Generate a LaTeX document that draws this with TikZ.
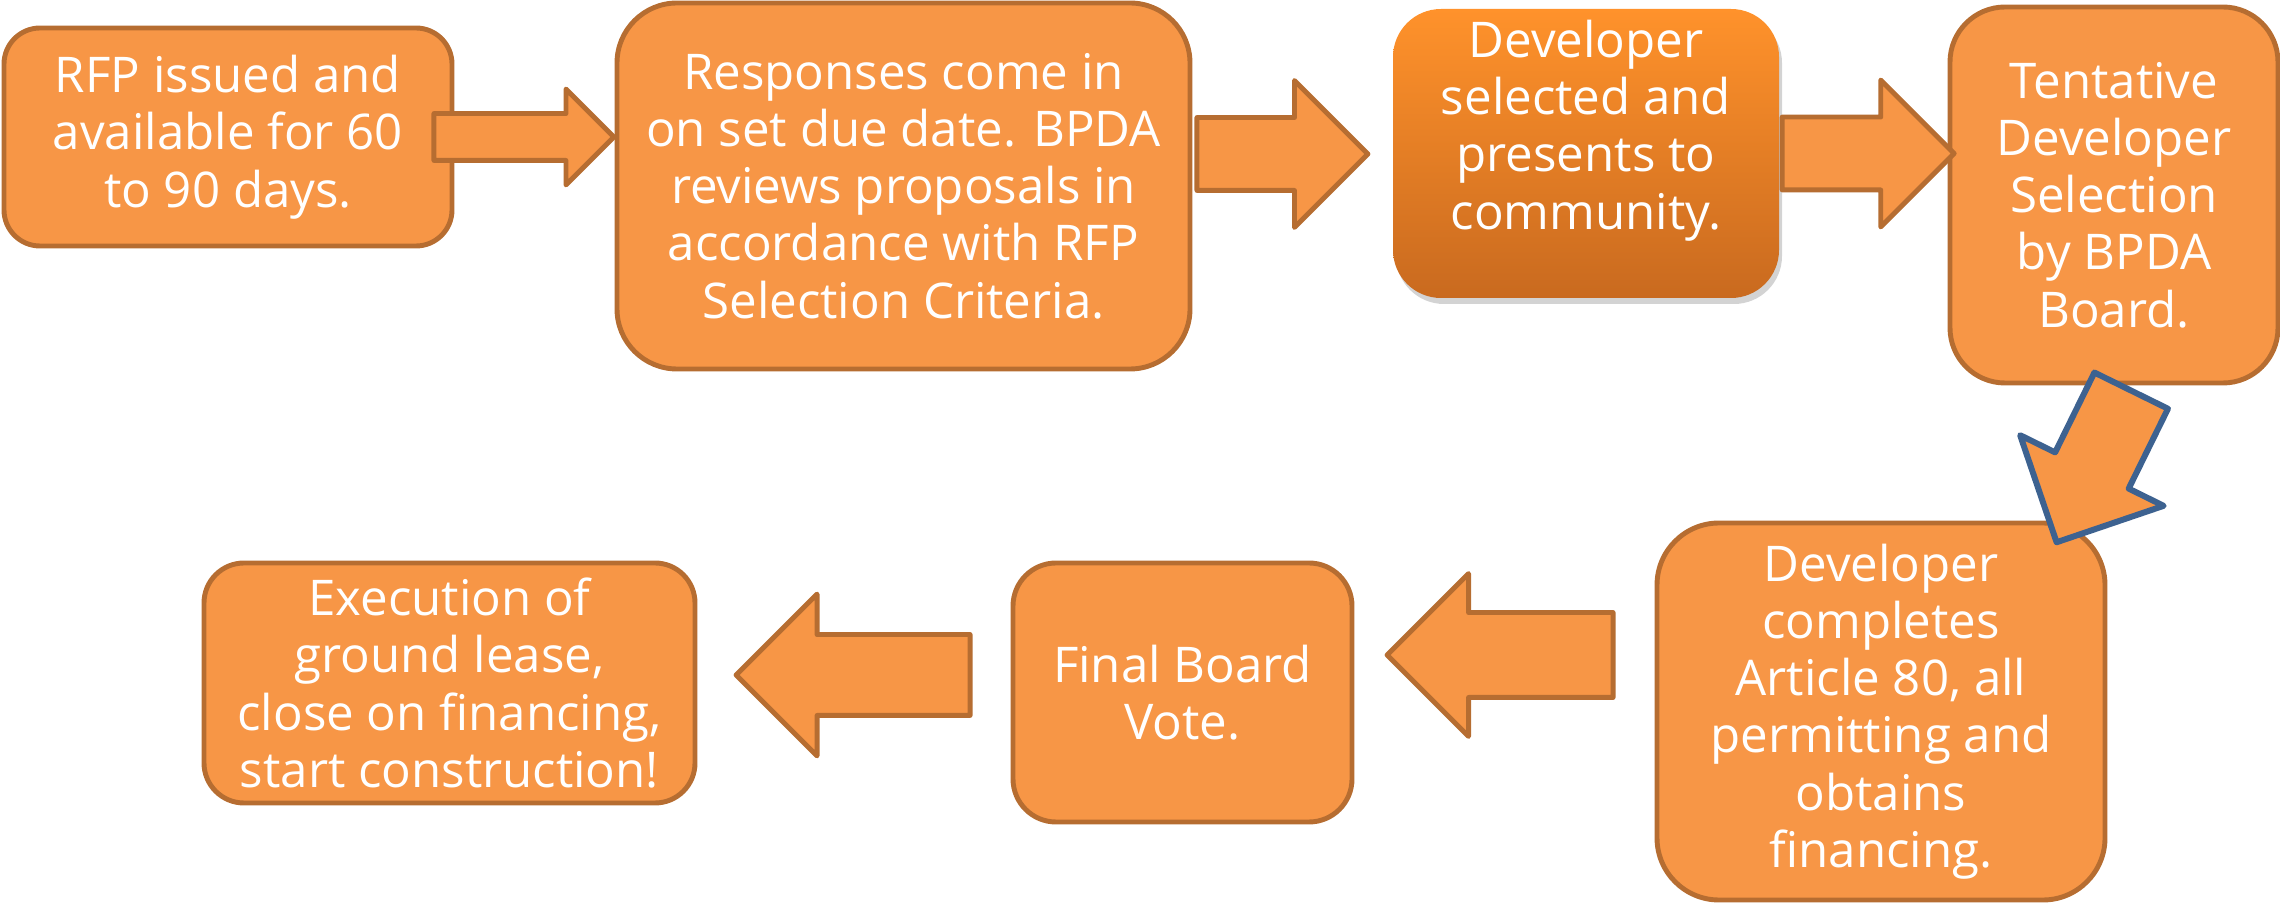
\documentclass[tikz,border=0pt]{standalone}
\usepackage{fontspec}
\setmainfont{Open Sans}
\usepackage{tikz}
\usetikzlibrary{positioning}
\usetikzlibrary{shapes.arrows}
\usetikzlibrary{shadows}

\definecolor{boxfill}{HTML}{F79646}
\definecolor{boxline}{HTML}{B66D31}
\definecolor{arrowblue}{HTML}{3D6290}
\definecolor{devtop}{HTML}{FF922B}
\definecolor{devbottom}{HTML}{C96A1F}

\begin{document}
\begin{tikzpicture}[
		steptext/.style = {text = white, align = center, font = \fontsize{14}{16.3}\selectfont, inner sep = 0pt},
		stepbox/.style = {steptext, draw = boxline, fill = boxfill, line width = 1.4pt},
		blockarrow/.style = {single arrow, draw = boxline, fill = boxfill, line width = 1.4pt, line join = round, inner xsep = 0pt}
	]
			\useasboundingbox (0,0) rectangle (22.8,-9.1);
			% top row
			\node[stepbox, minimum width = 4.48cm, minimum height = 2.18cm, rounded corners = 0.36cm] (rfp) at (2.28,-1.37) {RFP issued and\\available for 60\\to 90 days.};
			\node[stepbox, minimum width = 5.73cm, minimum height = 3.66cm, rounded corners = 0.6cm] (responses) at (9.035,-1.86) {Responses come in\\on set due date. BPDA\\reviews proposals in\\accordance with RFP\\Selection Criteria.};
			\node[draw = none, top color = devtop, bottom color = devbottom, drop shadow = {shadow xshift = 0.3mm, shadow yshift = -0.6mm, opacity = 0.35}, minimum width = 3.86cm, minimum height = 2.89cm, rounded corners = 0.48cm] (developer) at (15.86,-1.535) {};
			\node[steptext] (developertext) at ([yshift = 2.3mm]developer.center) {Developer\\selected and\\presents to\\community.};
			\node[stepbox, minimum width = 3.28cm, minimum height = 3.76cm, rounded corners = 0.55cm] (tentative) at (21.14,-1.95) {Tentative\\Developer\\Selection\\by BPDA\\Board.};
			% bottom row
			\node[stepbox, minimum width = 4.48cm, minimum height = 3.77cm, rounded corners = 0.62cm] (permitting) at (18.81,-7.115) {Developer\\completes\\Article 80, all\\permitting and\\obtains\\financing.};
			\node[stepbox, minimum width = 3.39cm, minimum height = 2.59cm, rounded corners = 0.43cm] (vote) at (11.825,-6.925) {Final Board\\Vote.};
			\node[stepbox, minimum width = 4.91cm, minimum height = 2.40cm, rounded corners = 0.4cm] (lease) at (4.495,-6.83) {Execution of\\ground lease,\\close on financing,\\start construction!};
			% arrows
			\node[blockarrow, minimum height = 1.8cm, inner ysep = 0.21cm, single arrow head extend = 0.245cm, right = -0.23cm of rfp] (arrow1) {};
			\node[blockarrow, minimum height = 1.71cm, inner ysep = 0.34cm, single arrow head extend = 0.37cm, right = 0.02cm of responses, yshift = 3.2mm] (arrow2) {};
			\node[blockarrow, minimum height = 1.72cm, inner ysep = 0.34cm, single arrow head extend = 0.37cm, right = 0cm of developer] (arrow3) {};
			\node[blockarrow, draw = arrowblue, line width = 1.7pt, minimum height = 1.69cm, inner ysep = 0.38cm, single arrow head extend = 0.39cm, rotate = 243.8, anchor = tail] (arrow4) at ([xshift = 1.85mm, yshift = -0.25mm]tentative.south) {};
			\node[blockarrow, minimum height = 2.26cm, inner ysep = 0.4cm, single arrow head extend = 0.39cm, rotate = 180, anchor = tail] (arrow5) at ([xshift = -3.9mm, yshift = 5.65mm]permitting.west) {};
			\node[blockarrow, minimum height = 2.34cm, inner ysep = 0.38cm, single arrow head extend = 0.405cm, rotate = 180, anchor = tail] (arrow6) at ([xshift = -3.8mm, yshift = 1.75mm]vote.west) {};
		\end{tikzpicture}
\end{document}
